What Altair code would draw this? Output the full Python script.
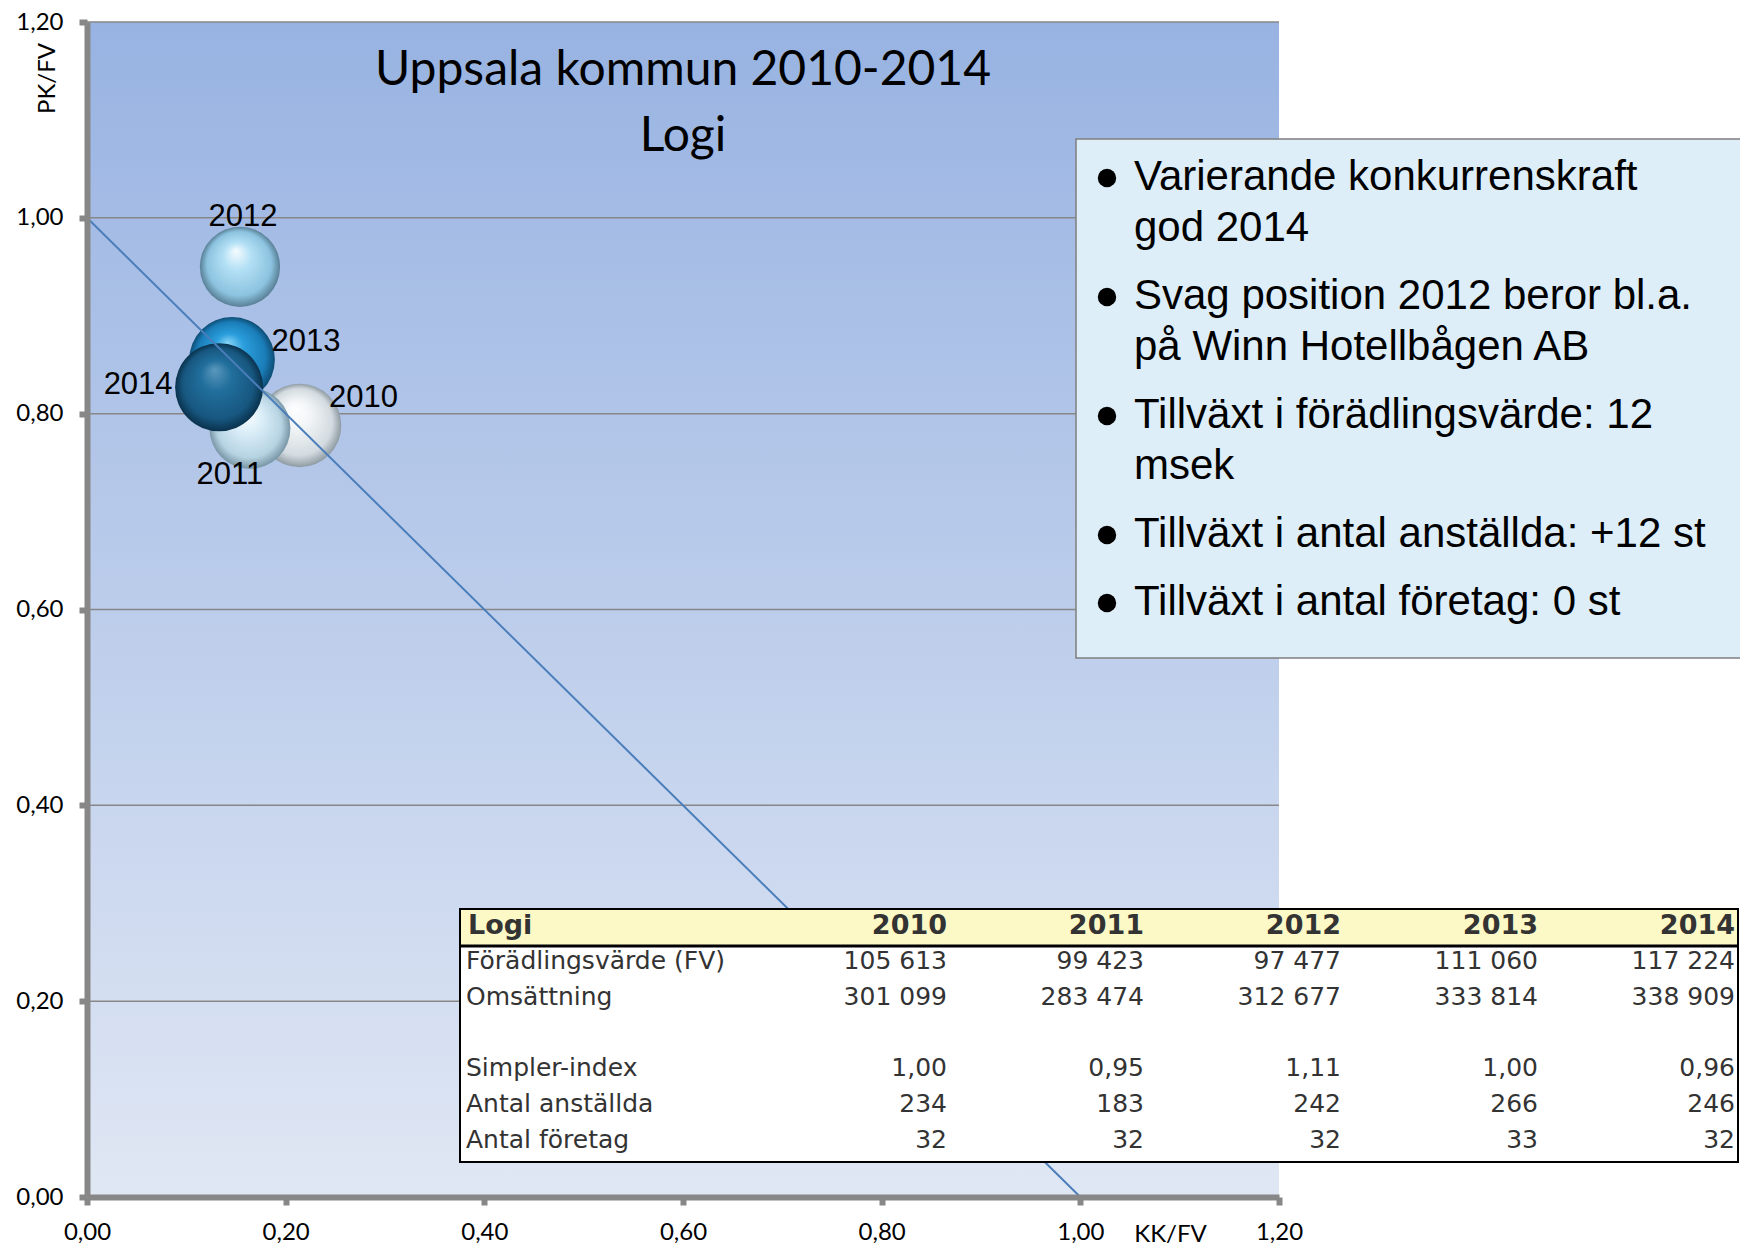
import altair as alt
import pandas as pd

# ---------------- data ----------------
years = [2010, 2011, 2012, 2013, 2014]
kk_fv = [0.214, 0.164, 0.154, 0.146, 0.133]
pk_fv = [0.788, 0.785, 0.950, 0.855, 0.827]
fv = [105613, 99423, 97477, 111060, 117224]
omsattning = [301099, 283474, 312677, 333814, 338909]
simpler = [1.00, 0.95, 1.11, 1.00, 0.96]
anstallda = [234, 183, 242, 266, 246]
foretag = [32, 32, 32, 33, 32]
row_labels = ["Förädlingsvärde (FV)", "Omsättning", "", "Simpler-index",
              "Antal anställda", "Antal företag"]
axis_ticks = [0, 0.2, 0.4, 0.6, 0.8, 1.0, 1.2]
grid_vals = [0.2, 0.4, 0.6, 0.8, 1.0, 1.2]
diag_x = [0, 1]
diag_y = [1, 0]
title_lines = ["Uppsala kommun 2010-2014", "Logi"]
bullets = [
    ["Varierande konkurrenskraft", "god 2014"],
    ["Svag position 2012 beror bl.a.", "på Winn Hotellbågen AB"],
    ["Tillväxt i förädlingsvärde: 12", "msek"],
    ["Tillväxt i antal anställda: +12 st"],
    ["Tillväxt i antal företag: 0 st"],
]

# ---------------- layout (page pixels) ----------------
X0, Y0 = 87, 22          # top-left of plot area on the page
W, H = 1192, 1175
PAD_L, PAD_T = X0 - 8, Y0 - 8
PAD_R = 1732 - PAD_L - W
PAD_B = 1239 - PAD_T - H


def ux(px):
    return (px - X0) / W * 1.2


def uy(py):
    return (Y0 + H - py) / H * 1.2


GRAY = "#878787"
xs = alt.Scale(domain=[0, 1.2], nice=False, zero=False)
ys = alt.Scale(domain=[0, 1.2], nice=False, zero=False)
lab_expr = "replace(format(datum.value, '.2f'), '.', ',')"
xaxis = alt.Axis(values=axis_ticks, labelExpr=lab_expr, grid=False, labelFlush=False,
                 domainColor=GRAY, domainWidth=6, tickColor=GRAY, tickWidth=6,
                 tickSize=8, labelFont="Lato", labelFontSize=24, labelColor="black",
                 labelPadding=15, title="KK/FV", titleX=1083, titleY=37,
                 titleFont="Lato", titleFontSize=24, titleFontWeight="normal",
                 titleColor="black", titleAlign="center", titleBaseline="middle",
                 zindex=1)
yaxis = alt.Axis(values=axis_ticks, labelExpr=lab_expr, grid=False, labelFlush=False,
                 domainColor=GRAY, domainWidth=6, tickColor=GRAY, tickWidth=6,
                 tickSize=8, labelFont="Lato", labelFontSize=24, labelColor="black",
                 labelPadding=16, title="PK/FV", titleX=-40, titleY=56,
                 titleAngle=270, titleFont="Lato", titleFontSize=24,
                 titleFontWeight="normal", titleColor="black", titleAlign="center",
                 titleBaseline="middle", zindex=1)


def X(f):
    return alt.X(f, type="quantitative", scale=xs, axis=xaxis)


def Y(f):
    return alt.Y(f, type="quantitative", scale=ys, axis=yaxis)


# ---------------- background ----------------
bg_df = pd.DataFrame({"x0": [0.0], "x1": [1.2], "y0": [0.0], "y1": [1.2]})
bg_grad = alt.LinearGradient(
    gradient="linear", x1=0, y1=0, x2=0, y2=1,
    stops=[alt.GradientStop(offset=0, color="#98b3e2"),
           alt.GradientStop(offset=1, color="#e0e7f4")])
background = alt.Chart(bg_df).mark_rect(fill=bg_grad).encode(
    x=X("x0"), x2="x1", y=Y("y0"), y2="y1")

grid = alt.Chart(pd.DataFrame({"g": grid_vals})).mark_rule(
    color=GRAY, strokeWidth=1.5).encode(y=Y("g"), x=alt.value(0), x2=alt.value(W))

# ---------------- bubbles ----------------
bub_df = pd.DataFrame({"year": years, "kk": kk_fv, "pk": pk_fv, "fv": fv,
                       "label": [str(y) for y in years]})

sphere_stops = {
    2010: ["#ffffff", "#f1f4f6", "#d3dbe0", "#8e9aa2"],
    2011: ["#ffffff", "#dceff9", "#b6d3e2", "#7895a6"],
    2012: ["#f5fcff", "#b3e0f5", "#8cc3df", "#587f96"],
    2013: ["#86d3f7", "#2a9edc", "#1a7db8", "#0d4c74"],
    2014: ["#5c98bd", "#216f9d", "#175780", "#0a324d"],
}
label_off = {2010: (64, -27), 2011: (-20, 47), 2012: (3, -50),
             2013: (74, -18), 2014: (-81, -2)}
size_scale = alt.Scale(domain=[0, max(fv)], range=[0, 7744])

bubble_layers = []
label_layers = []
for yr in years:
    st = sphere_stops[yr]
    grad = alt.RadialGradient(
        gradient="radial", x1=0.45, y1=0.3, r1=0.0, x2=0.5, y2=0.5, r2=0.5,
        stops=[alt.GradientStop(offset=0, color=st[0]),
               alt.GradientStop(offset=0.35, color=st[1]),
               alt.GradientStop(offset=0.8, color=st[2]),
               alt.GradientStop(offset=1, color=st[3])])
    bubble_layers.append(
        alt.Chart(bub_df).transform_filter(alt.datum.year == yr)
        .mark_circle(fill=grad, opacity=1, fillOpacity=1)
        .encode(x=X("kk"), y=Y("pk"),
                size=alt.Size("fv:Q", scale=size_scale, legend=None)))
    ddx, ddy = label_off[yr]
    label_layers.append(
        alt.Chart(bub_df).transform_filter(alt.datum.year == yr)
        .mark_text(font="Liberation Sans", fontSize=31, color="black",
                   align="center", baseline="middle", dx=ddx, dy=ddy)
        .encode(x=X("kk"), y=Y("pk"), text="label:N"))

diag = alt.Chart(pd.DataFrame({"dx": diag_x, "dy": diag_y})).mark_line(
    color="#4a7ebb", strokeWidth=2).encode(x=X("dx"), y=Y("dy"))

# ---------------- title ----------------
title_df = pd.DataFrame({"t": title_lines,
                         "tx": [0.6] * len(title_lines),
                         "ty": [uy(85 + 66 * i) for i in range(len(title_lines))]})
title = alt.Chart(title_df).mark_text(
    font="Lato", fontSize=48, color="black", align="center",
    baseline="alphabetic").encode(x=X("tx"), y=Y("ty"), text="t:N")

# ---------------- text box ----------------
box_df = pd.DataFrame({"x0": [ux(1076)], "x1": [ux(1770)],
                       "y0": [uy(139)], "y1": [uy(658)]})
box = alt.Chart(box_df).mark_rect(fill="#ddeef9", stroke="#7f7f7f",
                                  strokeWidth=1.5).encode(
    x=X("x0"), x2="x1", y=Y("y0"), y2="y1")

line_rows, dot_rows = [], []
cy = 176
for bi, lines in enumerate(bullets):
    if bi > 0:
        cy += 68
    dot_rows.append({"bx": ux(1107), "by": uy(cy + 2)})
    for li, txt in enumerate(lines):
        if li > 0:
            cy += 51
        line_rows.append({"t": txt, "lx": ux(1134), "ly": uy(cy + 14)})
box_text = alt.Chart(pd.DataFrame(line_rows)).mark_text(
    font="Liberation Sans", fontSize=42, color="black", align="left",
    baseline="alphabetic").encode(x=X("lx"), y=Y("ly"), text="t:N")
box_dots = alt.Chart(pd.DataFrame(dot_rows)).mark_circle(
    color="black", opacity=1, size=340).encode(x=X("bx"), y=Y("by"))

# ---------------- table ----------------
def sv_int(v):
    return f"{v:,}".replace(",", " ")


def sv_dec(v):
    return f"{v:.2f}".replace(".", ",")


row_values = [
    [sv_int(v) for v in fv],
    [sv_int(v) for v in omsattning],
    ["" for _ in years],
    [sv_dec(v) for v in simpler],
    [sv_int(v) for v in anstallda],
    [sv_int(v) for v in foretag],
]
T_L, T_R, T_T, T_HB, T_B = 460, 1738, 909, 946, 1162
col_right = [947 + 197 * i for i in range(len(years))]
row_y = [961 + 35.8 * i for i in range(len(row_labels))]
head_y = 926

tab_rects = pd.DataFrame({
    "x0": [ux(T_L), ux(T_L)], "x1": [ux(T_R), ux(T_R)],
    "y0": [uy(T_T), uy(T_HB)], "y1": [uy(T_HB), uy(T_B)],
    "f": ["#fdf9c6", "#ffffff"]})
tab_fill = alt.Chart(tab_rects).mark_rect(stroke="black", strokeWidth=2).encode(
    x=X("x0"), x2="x1", y=Y("y0"), y2="y1",
    fill=alt.Fill("f:N", scale=None))
tab_rule = alt.Chart(pd.DataFrame({"x0": [ux(T_L)], "x1": [ux(T_R)],
                                   "y0": [uy(T_HB)]})).mark_rule(
    color="black", strokeWidth=3).encode(x=X("x0"), x2="x1", y=Y("y0"))

head_rows = [{"t": "Logi", "cx": ux(468), "cy": uy(head_y), "a": "left"}]
for i, yr in enumerate(years):
    head_rows.append({"t": str(yr), "cx": ux(col_right[i]), "cy": uy(head_y), "a": "right"})
head_df = pd.DataFrame(head_rows)
head_left = alt.Chart(head_df).transform_filter(alt.datum.a == "left").mark_text(
    font="DejaVu Sans", fontSize=27, fontWeight="bold", color="#333333",
    align="left", baseline="middle").encode(x=X("cx"), y=Y("cy"), text="t:N")
head_right = alt.Chart(head_df).transform_filter(alt.datum.a == "right").mark_text(
    font="DejaVu Sans", fontSize=27, fontWeight="bold", color="#333333",
    align="right", baseline="middle").encode(x=X("cx"), y=Y("cy"), text="t:N")

lab_rows, val_rows = [], []
for r, lab in enumerate(row_labels):
    if lab:
        lab_rows.append({"t": lab, "cx": ux(466), "cy": uy(row_y[r])})
    for c in range(len(years)):
        if row_values[r][c]:
            val_rows.append({"t": row_values[r][c], "cx": ux(col_right[c]),
                             "cy": uy(row_y[r])})
row_lab = alt.Chart(pd.DataFrame(lab_rows)).mark_text(
    font="DejaVu Sans", fontSize=25, color="#333333", align="left",
    baseline="middle").encode(x=X("cx"), y=Y("cy"), text="t:N")
row_val = alt.Chart(pd.DataFrame(val_rows)).mark_text(
    font="DejaVu Sans", fontSize=25, color="#333333", align="right",
    baseline="middle").encode(x=X("cx"), y=Y("cy"), text="t:N")

chart = alt.layer(
    background, grid, *bubble_layers, diag, *label_layers, title,
    box, box_dots, box_text,
    tab_fill, tab_rule, head_left, head_right, row_lab, row_val,
).properties(
    width=W, height=H,
    autosize=alt.AutoSizeParams(type="none"),
    padding={"left": PAD_L, "top": PAD_T, "right": PAD_R, "bottom": PAD_B},
    background="white",
).configure_view(stroke=None)

chart.save("out.html", embed_options={"renderer": "svg", "actions": False})
